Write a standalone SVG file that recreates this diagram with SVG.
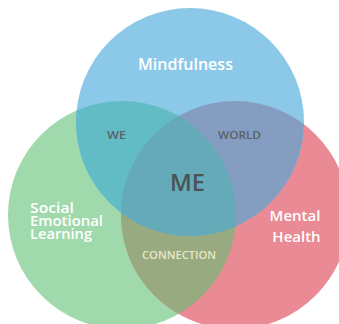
<svg xmlns="http://www.w3.org/2000/svg" width="339" height="324" viewBox="0 0 339 324">
<style>
.lbl{font-family:"Open Sans","Liberation Sans",sans-serif;font-weight:600}
.w{fill:#ffffff}
.dk{fill:#5a6266}
</style>
<defs>
<clipPath id="cB"><circle cx="190" cy="122" r="114"/></clipPath>
<clipPath id="cG"><circle cx="122" cy="215" r="114"/></clipPath>
<clipPath id="cR"><circle cx="235" cy="215" r="114"/></clipPath>
</defs>
<rect width="339" height="324" fill="#ffffff"/>
<g id="circles">
<g id="green"><circle cx="122" cy="215" r="114" fill="#A0D9AC"/></g>
<g id="red"><circle cx="235" cy="215" r="114" fill="#E98A94"/></g>
<g id="blue"><circle cx="190" cy="122" r="114" fill="#8CC8E8"/></g>
<g id="green-red" clip-path="url(#cG)"><circle cx="235" cy="215" r="114" fill="#98AA80"/></g>
<g id="blue-green" clip-path="url(#cB)"><circle cx="122" cy="215" r="114" fill="#62BCC6"/></g>
<g id="blue-red" clip-path="url(#cB)"><circle cx="235" cy="215" r="114" fill="#849DC0"/></g>
<g id="all" clip-path="url(#cB)"><g clip-path="url(#cG)"><circle cx="235" cy="215" r="114" fill="#64AAB8"/></g></g>
</g>
<g id="labels">
<text class="lbl w" x="185.5" y="70" font-size="16.5" text-anchor="middle" textLength="95" lengthAdjust="spacingAndGlyphs">Mindfulness</text>
<text id="sel-label" class="lbl w" font-size="13.5"><tspan x="30" y="213" textLength="44" lengthAdjust="spacingAndGlyphs">Social</tspan><tspan x="30" y="226" textLength="73" lengthAdjust="spacingAndGlyphs">Emotional</tspan><tspan x="30" y="238.5" textLength="62" lengthAdjust="spacingAndGlyphs">Learning</tspan></text>
<text id="mh-label" class="lbl w" font-size="15" text-anchor="middle"><tspan x="295" y="221">Mental</tspan><tspan x="296.5" y="242">Health</tspan></text>
<text class="lbl dk" x="116.5" y="139" font-size="10" text-anchor="middle" textLength="19" lengthAdjust="spacingAndGlyphs">WE</text>
<text class="lbl dk" x="239.5" y="139" font-size="10" text-anchor="middle" textLength="43" lengthAdjust="spacingAndGlyphs">WORLD</text>
<text class="lbl" x="187.5" y="191" font-size="24" font-weight="700" fill="#4b5357" text-anchor="middle" textLength="35" lengthAdjust="spacingAndGlyphs">ME</text>
<text class="lbl" x="179" y="259" font-size="11" fill="#E8E6C6" text-anchor="middle" textLength="74" lengthAdjust="spacingAndGlyphs">CONNECTION</text>
</g>
</svg>
